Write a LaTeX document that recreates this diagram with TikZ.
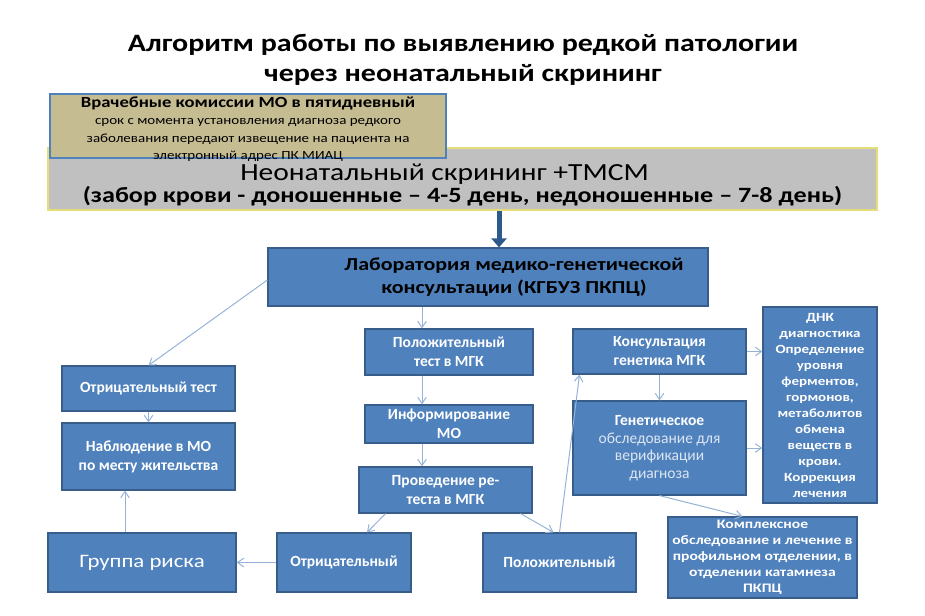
\documentclass[tikz,border=0pt]{standalone}
\usepackage{fontspec}
\setmainfont{Carlito}
\newfontfamily\widefont[FakeStretch=1.2]{Carlito}
\usetikzlibrary{arrows.meta,positioning}
\definecolor{boxblue}{HTML}{4F81BD}
\definecolor{boxedge}{HTML}{385D8A}
\definecolor{arrlight}{HTML}{95B3D7}
\definecolor{arrdark}{HTML}{2C5A8C}
\definecolor{khaki}{HTML}{C6BC92}
\definecolor{greybox}{HTML}{C0C0C0}
\definecolor{yedge}{HTML}{E4DD78}
\definecolor{palebl}{HTML}{DCE6F2}

\begin{document}
\begin{tikzpicture}[x=1pt,y=-1pt,
  b/.style={draw=boxedge,fill=boxblue,line width=1.2pt,text=white,align=center,inner sep=0pt,
    font=\fontsize{15.5}{19}\selectfont\bfseries},
  sm/.style={font=\widefont\fontsize{12.5}{16}\selectfont\bfseries},
  arr/.style={-{Straight Barb[length=2.2mm,width=3mm]},arrlight,line width=1pt},
  bigarr/.style={-{Triangle[length=9pt,width=15pt]},arrdark,line width=5pt}]
\useasboundingbox (0,0) rectangle (925,615);

% title
\node[font=\widefont\fontsize{25}{30}\selectfont\bfseries,align=center] (title) at (463,60)
  {Алгоритм работы по выявлению редкой патологии\\через неонатальный скрининг};

% screening header
\node[draw=yedge,fill=greybox,line width=1.5pt,minimum width=829,minimum height=62,inner sep=0pt]
  (scr) at (462.5,179) {};
\node[align=center,inner sep=0pt,font=\widefont] (scrtxt) at ([yshift=-6]scr.center)
  {\fontsize{24.6}{26}\selectfont Неонатальный скрининг +ТМСМ\hspace*{36pt}\\[1pt]
  \fontsize{21.8}{22}\selectfont\bfseries (забор крови - доношенные – 4-5 день, недоношенные – 7-8 день)};
\node[draw=boxblue,fill=khaki,line width=1.2pt,minimum width=396,minimum height=64,inner sep=0pt]
  (mo) at (248,126) {};
\node[anchor=north,align=center,inner sep=0pt,font=\widefont\fontsize{12.5}{17.5}\selectfont]
  (motxt) at ([yshift=-3]mo.north)
  {\fontsize{15.5}{17.5}\selectfont\bfseries Врачебные комиссии МО в пятидневный\\
  срок с момента установления диагноза редкого\\
  заболевания передают извещение на пациента на\\
  электронный адрес ПК МИАЦ};

% laboratory
\node[b,minimum width=440,minimum height=58] (lab) at (488,277) {};
\node[align=center,inner sep=0pt,font=\widefont\fontsize{18.3}{23}\selectfont\bfseries]
  (labtxt) at ([xshift=26]lab.center) {Лаборатория медико-генетической\\консультации (КГБУЗ ПКПЦ)};

% middle column
\node[b,minimum width=168,minimum height=46] (pos) at (449,352) {Положительный\\тест в МГК};
\node[b,minimum width=168,minimum height=38] (inf) at (449,424) {Информирование\\МО};
\node[b,minimum width=173,minimum height=46] (ret) at (445.5,490) {Проведение ре-\\теста в МГК};
\node[b,minimum width=134,minimum height=59] (neg) at (344,562.5) {Отрицательный};
\node[b,minimum width=153,minimum height=59] (posr) at (559.5,562.5) {Положительный};

% left column
\node[b,minimum width=173,minimum height=45] (negt) at (148.5,388.5) {Отрицательный тест};
\node[b,minimum width=173,minimum height=67] (obs) at (148.5,456.5) {Наблюдение в МО\\по месту жительства};
\node[b,minimum width=188,minimum height=59,font=\widefont\fontsize{19}{20}\selectfont]
  (risk) at (142,562.5) {Группа риска};

% right part
\node[b,minimum width=173,minimum height=94,font=\fontsize{15.5}{17.5}\selectfont\mdseries] (gen) at (659.5,448)
  {\bfseries\color{white}Генетическое\\\color{palebl}обследование для\\\color{palebl}верификации\\\color{palebl}диагноза};
\node[b,minimum width=173,minimum height=45] (cons) at (659.5,351.5) {Консультация\\генетика МГК};
\node[b,sm,minimum width=114,minimum height=196] (dna) at (820,405)
  {ДНК\\диагностика\\Определение\\уровня\\ферментов,\\гормонов,\\метаболитов\\обмена\\веществ в\\крови.\\Коррекция\\лечения};
\node[b,sm,minimum width=189,minimum height=81,font=\widefont\fontsize{13}{16}\selectfont\bfseries] (kompl) at (762.5,557.5)
  {Комплексное\\обследование и лечение в\\профильном отделении, в\\отделении катамнеза\\ПКПЦ};

% connectors
\draw[bigarr] ([xshift=11]lab.north |- scr.south) -- ([xshift=11]lab.north);
\draw[arr] ([yshift=-3]lab.west) -- (negt.north);
\draw[arr] (negt) -- (obs);
\draw[arr] ([xshift=-17]risk.north) -- ([xshift=-17]risk.north |- obs.south);
\draw[arr] (neg) -- (risk);
\draw[arr] ([xshift=-27]pos.north |- lab.south) -- ([xshift=-27]pos.north);
\draw[arr] ([xshift=-27]pos.south) -- ([xshift=-27]inf.north);
\draw[arr] ([xshift=-27]inf.south) -- ([xshift=-27]inf.south |- ret.north);
\draw[arr] ([xshift=-60]ret.south) -- ([xshift=23]neg.north);
\draw[arr] ([xshift=75]ret.south) -- ([xshift=-6]posr.north);
\draw[arr] (posr.north) -- ([xshift=-80]cons.south);
\draw[arr] (cons) -- (gen);
\draw[arr] (cons.east) -- (cons.east -| dna.west);
\draw[arr] (gen.east) -- (gen.east -| dna.west);
\draw[arr] (gen.south) -- ([xshift=-20]kompl.north);
\end{tikzpicture}
\end{document}
